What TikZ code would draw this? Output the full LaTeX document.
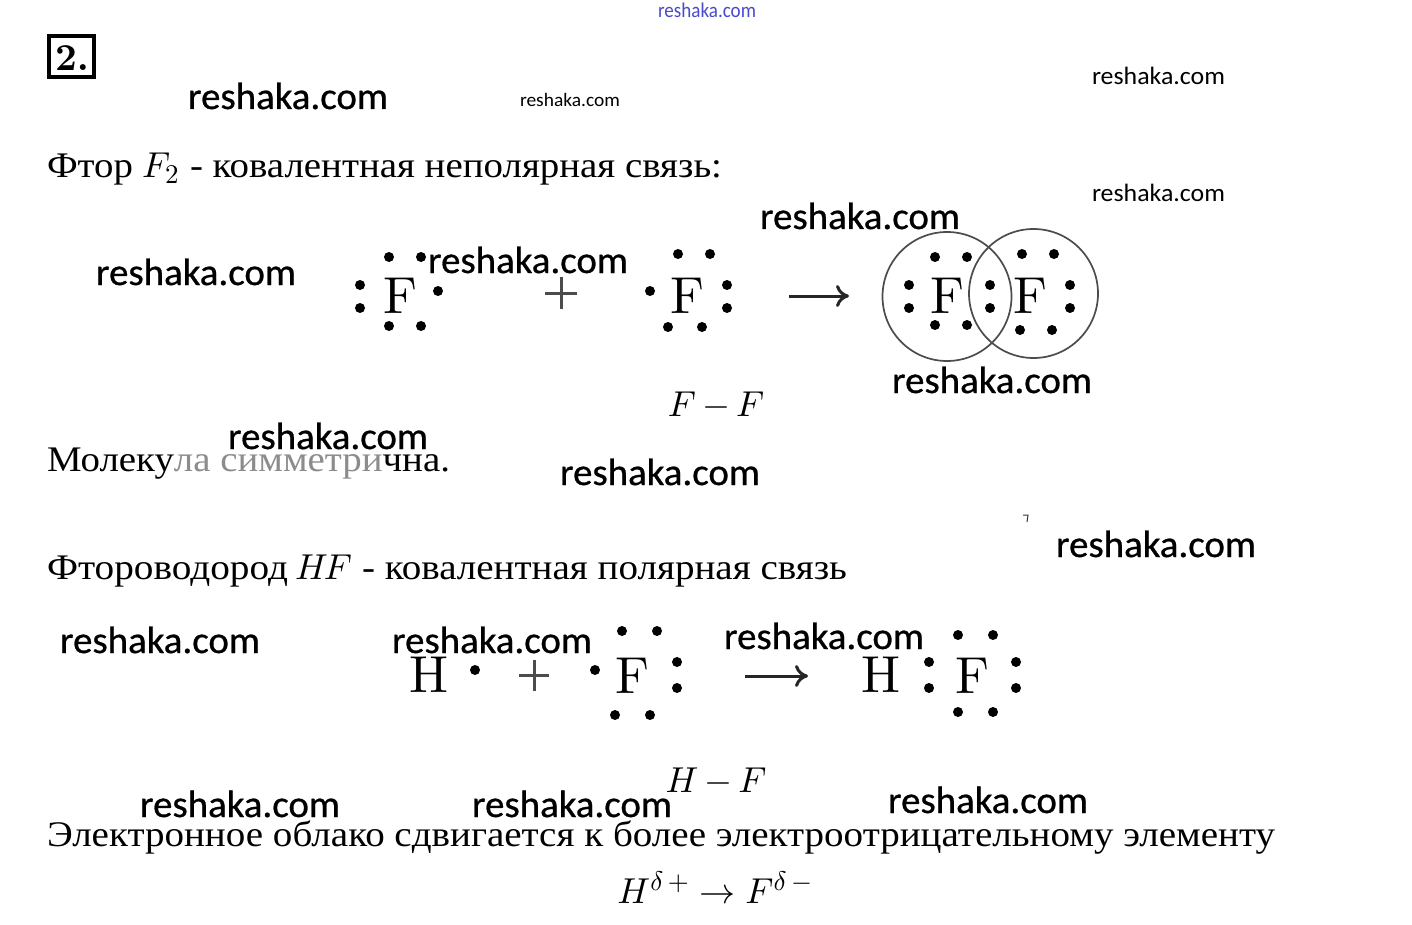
\RequirePackage{fix-cm}
\documentclass[tikz,border=0pt]{standalone}
\usepackage{graphicx}
\usepackage{fontspec}
\usetikzlibrary{arrows.meta}
\DeclareFontShape{OML}{cmm}{m}{it}{<->cmmi10}{\skewchar\font=127}
\DeclareFontShape{OMS}{cmsy}{m}{n}{<->cmsy10}{\skewchar\font=48}
\DeclareFontShape{OT1}{cmr}{m}{n}{<->cmr10}{}
\DeclareMathSizes{36}{36}{27}{20}
\newfontfamily\rufont{Liberation Serif}
\newfontfamily\wmfont[FakeBold=0.7]{Carlito}
\newfontfamily\wmthin{Carlito}
\font\atomcm=cmr10 at 52pt
\font\numcm=cmbx10 at 38pt
\definecolor{wmblue}{HTML}{4A4AD0}
\definecolor{fade}{HTML}{8C8C8C}
\newcommand{\rutext}[2]{\resizebox{#1pt}{\height}{\fontsize{36}{40}\selectfont\rufont #2}}
\newcommand{\wmtext}[2]{\resizebox{#1pt}{\height}{\wmfont\fontsize{#2}{#2}\selectfont reshaka.com}}
\newcommand{\wmsmall}[2]{\resizebox{#1pt}{\height}{\wmthin\fontsize{#2}{#2}\selectfont reshaka.com}}
\tikzset{
  txt/.style={inner sep=0pt,outer sep=0pt,anchor=base west},
  wm/.style={txt,text=black},
  atom/.style={inner sep=0pt,outer sep=0pt,anchor=center,font=\atomcm},
  formula/.style={inner sep=0pt,outer sep=0pt,anchor=center,font=\fontsize{36}{42}\selectfont},
  orbit/.style={draw=black!70,line width=1.7pt,circle,minimum size=129pt,inner sep=0pt},
  react/.style={line width=3pt,draw=black!85,-{Computer Modern Rightarrow[length=13pt,width=22pt]}},
  plusbar/.style={line width=3pt,draw=black!70}
}
\begin{document}
\begin{tikzpicture}[x=1pt,y=-1pt]
\useasboundingbox (0,0) rectangle (1412,925);
\fill[white] (0,0) rectangle (1412,925);
% number box
\node[draw=black,line width=3.5pt,minimum width=45pt,minimum height=41pt,inner sep=0pt] (numbox) at (71.5,56.5) {};
\node[inner sep=0pt,font=\numcm] (numtxt) at (72,58) {2.};
% text lines
\node[txt] (l1a) at (47,178) {\rutext{86}{Фтор}};
\node[txt,font=\fontsize{36}{40}\selectfont] (l1b) at (142,178) {$F_2$};
\node[txt] (l1c) at (190,178) {\rutext{532}{- ковалентная неполярная связь:}};
\node[txt] (l2) at (47,471) {\rutext{403}{Молеку\textcolor{fade}{ла симметри}чна.}};
\node[txt] (l3a) at (47,579) {\rutext{241}{Фтороводород}};
\node[txt,font=\fontsize{36}{40}\selectfont] (l3b) at (295,579) {$H\kern-4pt F$};
\node[txt] (l3c) at (362,579) {\rutext{485}{- ковалентная полярная связь}};
\node[txt] (l4) at (47,846) {\rutext{1228}{Электронное облако сдвигается к более электроотрицательному элементу}};
% formulas
\node[formula] (ff) at (716,406) {$F\kern-2pt-\kern-2pt F$};
\node[formula] (hf) at (716,782) {$H\kern-2pt-\kern-2pt F$};
\node[formula] (delta) at (715,888) {$H^{\delta\,+}\rightarrow F^{\delta\,-}$};
% F2 scheme
\node[atom] (f1) at (400,296) {F};
\node[atom] (f2) at (687,296) {F};
\node[orbit] (c1) at (947,296.5) {};
\node[orbit] (c2) at (1033.5,293.5) {};
\node[atom] (f3) at (947,296) {F};
\node[atom] (f4) at (1030,296) {F};
\coordinate (pa) at (561,277); \coordinate (pb) at (561,309);
\coordinate (pc) at (545,293); \coordinate (pd) at (577,293);
\draw[plusbar] (pa) -- (pb) (pc) -- (pd);
\coordinate (a1s) at (789,296); \coordinate (a1e) at (849,296);
\draw[react] (a1s) -- (a1e);
% HF scheme
\node[atom] (h1) at (429,675) {H};
\node[atom] (f5) at (632,676) {F};
\node[atom] (h2) at (881,675) {H};
\node[atom] (f6) at (972,676) {F};
\coordinate (qa) at (534,660); \coordinate (qb) at (534,691);
\coordinate (qc) at (519,675.5); \coordinate (qd) at (549,675.5);
\draw[plusbar] (qa) -- (qb) (qc) -- (qd);
\coordinate (a2s) at (745,676); \coordinate (a2e) at (808,676);
\draw[react] (a2s) -- (a2e);
% electron dots
\foreach \x/\y in {389/257,421/257,360/285,360/308,438/291,389/326,421/326,
  678/254,710/254,650/291,727/285,727/308,668/327,702/327,
  935/257,967/257,909/285,909/308,990/285,990/308,935/325,967/325,
  1022/254,1054/254,1070/285,1070/308,1020/330,1052/330,
  475/670,595/670,622/631,657/631,677/662,677/688,615/715,650/715,
  929/662,929/688,958/635,993/635,1016/662,1016/688,958/712,993/712}
  \fill[black] (\x,\y) circle (5pt);
% watermark
\foreach \n/\x/\y in {a/188/109,b/96/285,c/428/273,d/760/229,e/892/393,f/228/449,g/560/485,
  h/1056/557,i/60/653,j/392/653,k/724/649,l/140/817,m/472/817,n/888/813}
  \node[wm] (wm\n) at (\x,\y) {\wmtext{200}{38}};
\node[wm] (wmo) at (1092,85) {\wmsmall{133}{25}};
\node[wm] (wmp) at (1092,201) {\wmsmall{133}{25}};
\node[wm] (wmq) at (520,107) {\wmsmall{100}{19}};
\node[txt,text=wmblue] (wmr) at (658,18) {\resizebox{98pt}{\height}{\wmthin\fontsize{21}{21}\selectfont reshaka.com}};
% speck
\coordinate (s1) at (1023,515); \coordinate (s2) at (1028,515); \coordinate (s3) at (1027,522);
\draw[line width=1pt,black!80] (s1) -- (s2) -- (s3);
\end{tikzpicture}
\end{document}
